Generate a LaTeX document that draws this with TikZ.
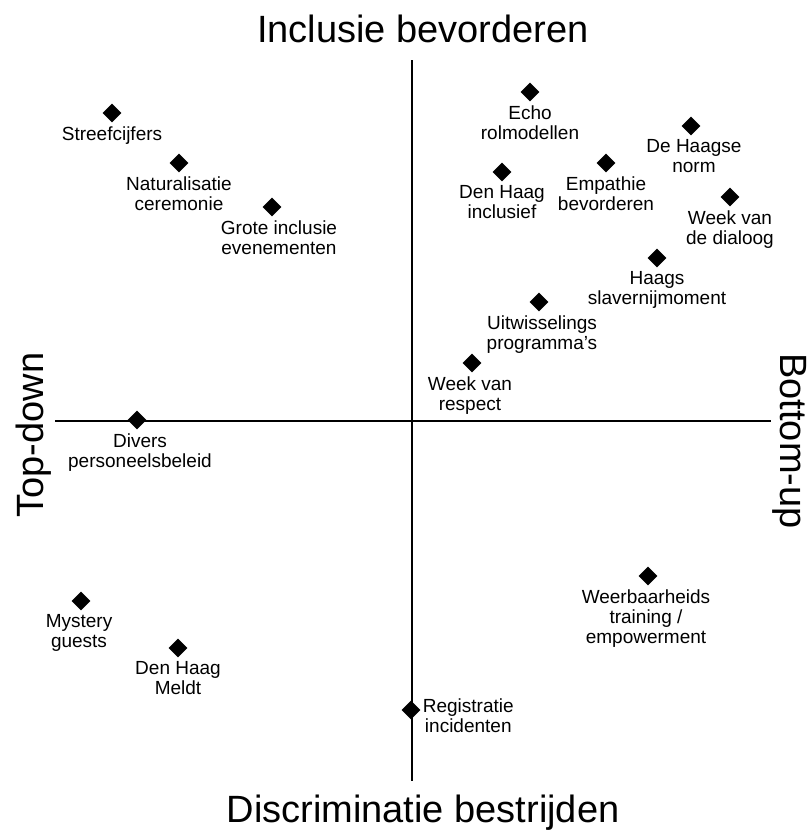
\documentclass[tikz,border=0pt]{standalone}
\usepackage{fontspec}
\setmainfont{Liberation Sans}
\usetikzlibrary{shapes.geometric,positioning}

\begin{document}
\begin{tikzpicture}
[
	x=1pt, y=-1pt,
% Measure style
	item/.style={
		diamond,
		fill=black,
		inner sep=0pt,
		minimum size=19pt},
% Measure label style
	lbl/.style={
		align=center,
		inner sep=0pt,
		font=\fontsize{19}{20}\selectfont},
% Axis title style
	axtitle/.style={
		inner sep=0pt,
		anchor=base,
		font=\fontsize{38}{40}\selectfont},
]
\useasboundingbox (0,0) rectangle (810,831);

% Axes
\coordinate (top) at (412,60);
\coordinate (bottom) at (412,781);
\coordinate (left) at (55,421);
\coordinate (right) at (771,421);
\draw [line width=1.8pt] (top) -- (bottom);
\draw [line width=1.8pt] (left) -- (right);

% Axis titles
\node[axtitle] (incl) at (423,42) {Inclusie bevorderen};
\node[axtitle] (discr) at (423,822) {Discriminatie bestrijden};
\node[axtitle, rotate=90] (topdown) at (43,435) {Top-down};
\node[axtitle, rotate=-90] (bottomup) at (780,441) {Bottom-up};

% Top left
\node[item] (streef) at (112,113) {};
\node[lbl, below=4pt of streef] (streef-l) {Streefcijfers};

\node[item] (natur) at (179,163) {};
\node[lbl, below=4pt of natur] (natur-l) {Naturalisatie\\ceremonie};

\node[item] (grote) at (272,207) {};
\node[lbl, below=4pt of grote, xshift=7pt] (grote-l) {Grote inclusie\\evenementen};

% Top right
\node[item] (echo) at (530,92) {};
\node[lbl, below=4pt of echo] (echo-l) {Echo\\rolmodellen};

\node[item] (norm) at (691,126) {};
\node[lbl, below=4pt of norm, xshift=3pt] (norm-l) {De Haagse\\norm};

\node[item] (dhincl) at (502,172) {};
\node[lbl, below=4pt of dhincl] (dhincl-l) {Den Haag\\inclusief};

\node[item] (empath) at (606,163) {};
\node[lbl, below=4pt of empath] (empath-l) {Empathie\\bevorderen};

\node[item] (dialoog) at (730,197) {};
\node[lbl, below=4pt of dialoog] (dialoog-l) {Week van\\de dialoog};

\node[item] (slavern) at (657,258) {};
\node[lbl, below=4pt of slavern] (slavern-l) {Haags\\slavernijmoment};

\node[item] (uitw) at (539,302) {};
\node[lbl, below=4pt of uitw, xshift=3pt] (uitw-l) {Uitwisselings\\programma's};

\node[item] (respect) at (472,363) {};
\node[lbl, below=4pt of respect, xshift=-2pt] (respect-l) {Week van\\respect};

% Bottom left
\node[item] (divers) at (137,420) {};
\node[lbl, below=4pt of divers, xshift=3pt] (divers-l) {Divers\\personeelsbeleid};

\node[item] (mystery) at (81,601) {};
\node[lbl, below=4pt of mystery, xshift=-2pt] (mystery-l) {Mystery\\guests};

\node[item] (meldt) at (178,648) {};
\node[lbl, below=4pt of meldt] (meldt-l) {Den Haag\\Meldt};

% Bottom right
\node[item] (weerb) at (648,576) {};
\node[lbl, below=4pt of weerb, xshift=-2pt] (weerb-l) {Weerbaarheids\\training /\\empowerment};

\node[item] (regis) at (411,710) {};
\node[lbl, right=2pt of regis, yshift=-6pt] (regis-l) {Registratie\\incidenten};

\end{tikzpicture}
\end{document}
